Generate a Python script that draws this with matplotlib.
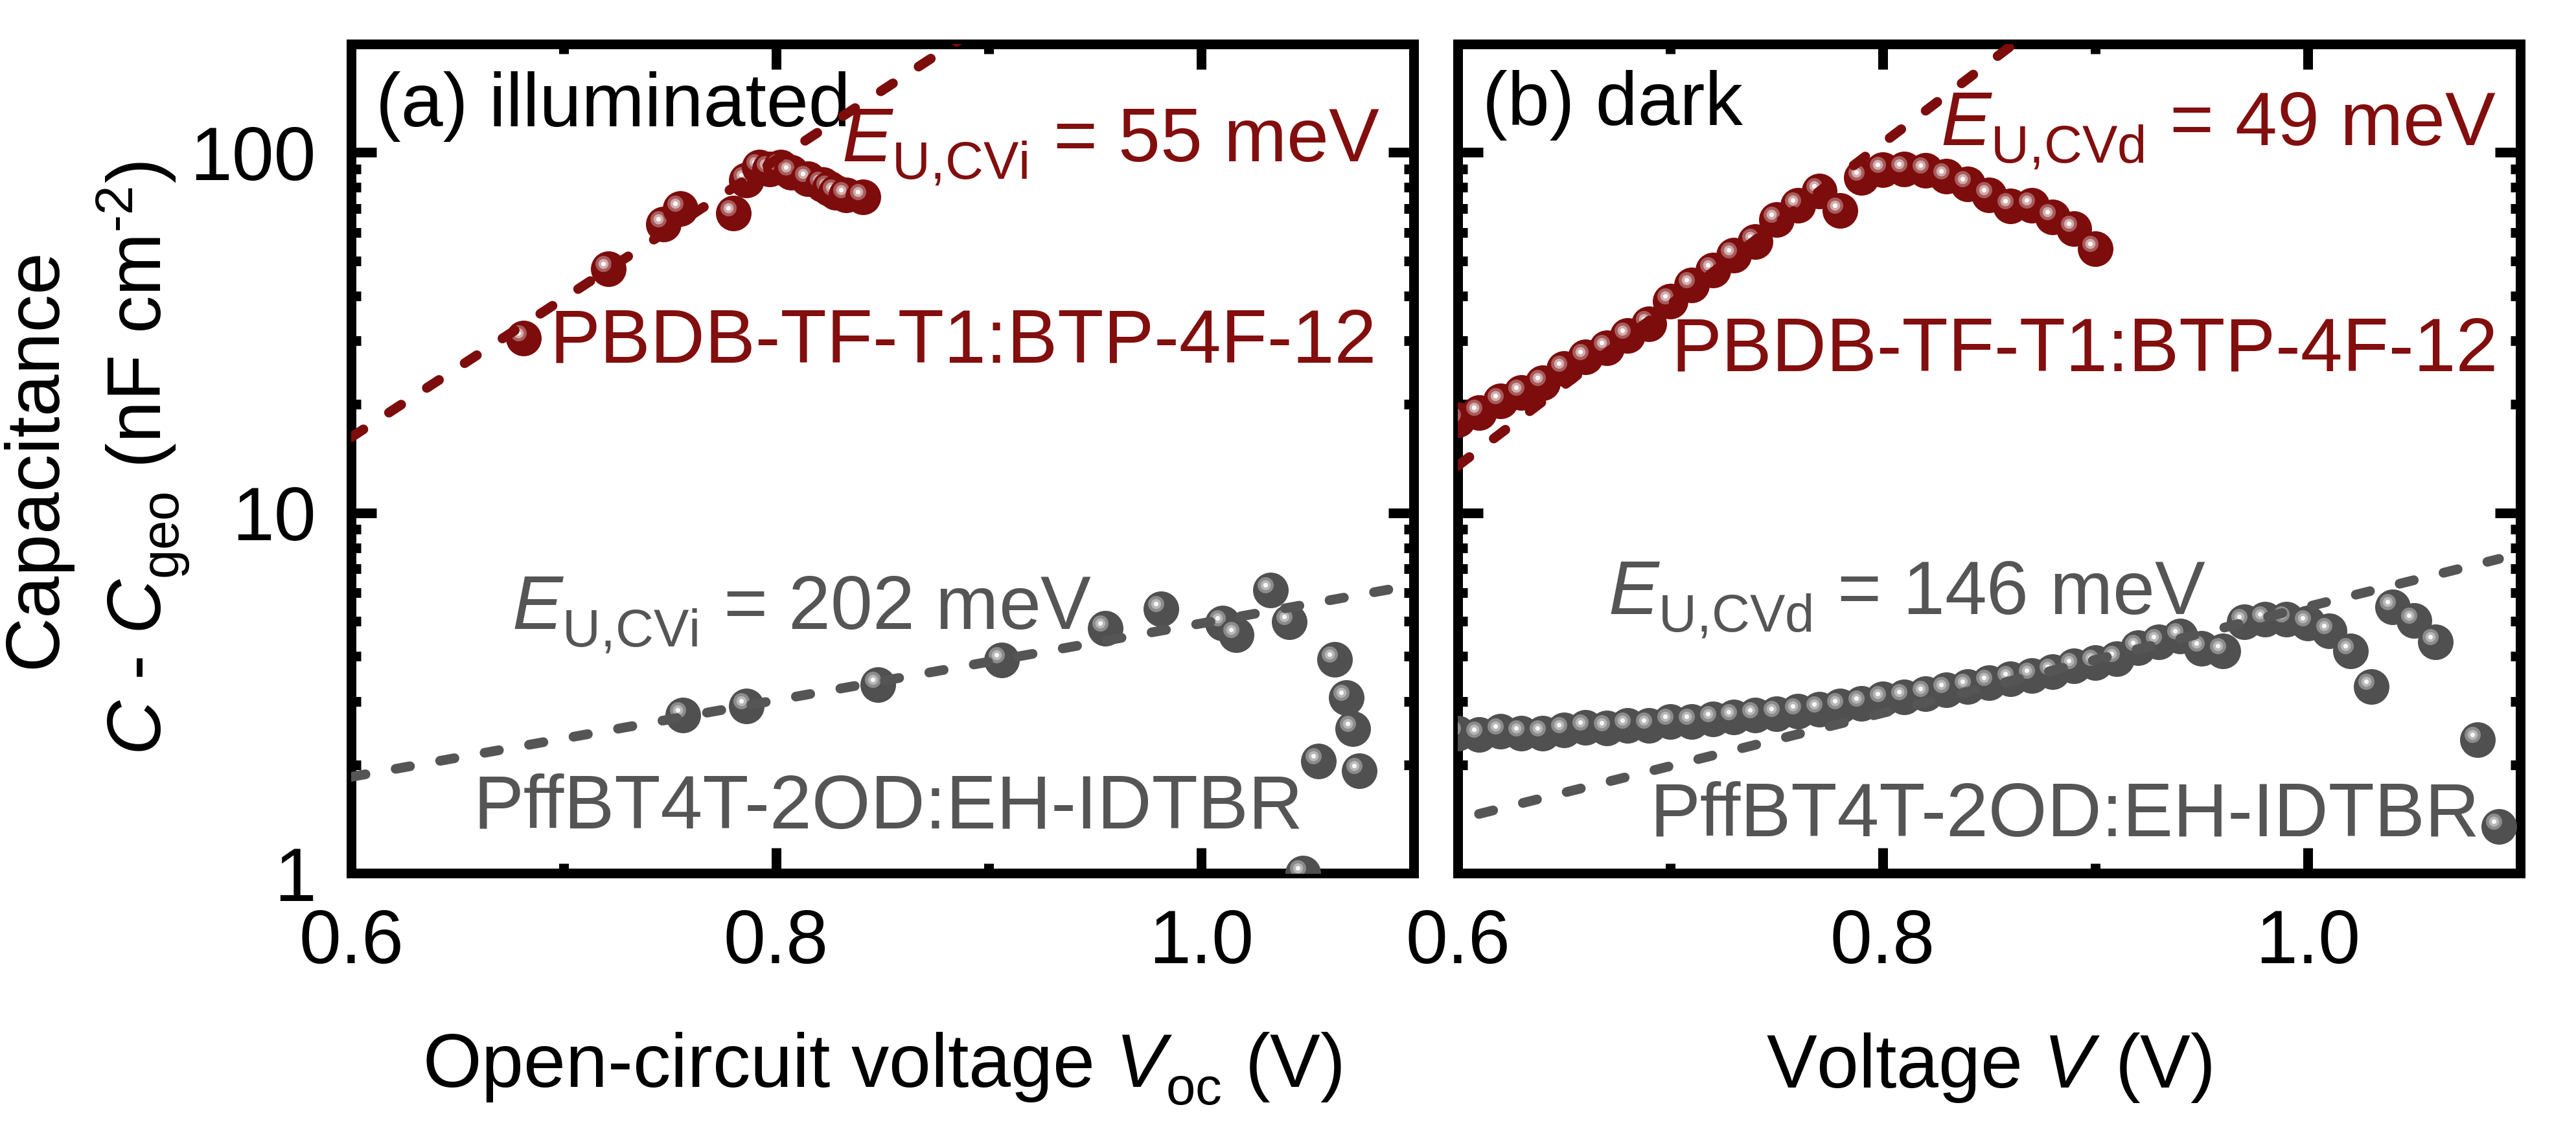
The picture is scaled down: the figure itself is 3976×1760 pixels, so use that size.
import matplotlib
matplotlib.use("Agg")
import matplotlib.pyplot as plt
import matplotlib.transforms as mtransforms
from matplotlib.ticker import LogLocator, NullFormatter, FixedLocator

plt.rcParams['font.family'] = ['Liberation Sans', 'DejaVu Sans']
plt.rcParams['mathtext.fontset'] = 'custom'
plt.rcParams['mathtext.rm'] = 'Liberation Sans'
plt.rcParams['mathtext.it'] = 'Liberation Sans:italic'
plt.rcParams['axes.linewidth'] = 5.4

# subscripts in the original sit a bit lower than mathtext's default
try:
    import matplotlib._mathtext as _mt
    _mt.FontConstantsBase.sub1 = 0.45
except Exception:
    pass

# (a) illuminated, PBDB-TF-T1:BTP-4F-12
illum_pbdb_v = [0.681, 0.721, 0.747, 0.755, 0.780, 0.786, 0.792, 0.797, 0.802,
                0.807, 0.815, 0.822, 0.825, 0.828, 0.833, 0.841]
illum_pbdb_c = [30.6, 47.5, 63.4, 70.0, 67.8, 83.7, 91.0, 89.8, 91.0,
                88.0, 84.7, 81.3, 79.3, 77.6, 76.1, 75.2]

# (a) illuminated, PffBT4T-2OD:EH-IDTBR
illum_pff_v = [0.756, 0.786, 0.848, 0.906, 0.955, 0.981, 1.010, 1.0165, 1.0326,
               1.0415, 1.0628, 1.0683, 1.0713, 1.0552, 1.0744, 1.048]
illum_pff_c = [2.75, 2.91, 3.34, 3.90, 4.78, 5.41, 4.94, 4.58, 6.10,
               4.98, 3.92, 3.07, 2.52, 2.05, 1.92, 1.0]

# (b) dark, PBDB-TF-T1:BTP-4F-12
dark_pbdb_v = [0.600, 0.610, 0.620, 0.630, 0.640, 0.650, 0.660, 0.670, 0.680, 0.690,
               0.700, 0.710, 0.720, 0.730, 0.740, 0.750, 0.760, 0.770, 0.780, 0.790,
               0.800, 0.810, 0.820, 0.830, 0.840, 0.850, 0.860, 0.870, 0.880, 0.890,
               0.900]
dark_pbdb_c = [18.1, 19.0, 20.4, 21.6, 23.0, 25.1, 27.1, 28.7, 31.1, 33.4,
               38.7, 42.8, 47.1, 51.8, 56.5, 65.1, 71.4, 78.3, 69.1, 85.3,
               89.7, 90.1, 89.1, 86.0, 81.7, 76.2, 71.1, 71.4, 66.2, 61.4,
               54.0]

# (b) dark, PffBT4T-2OD:EH-IDTBR
dark_pff_v = [0.600, 0.610, 0.620, 0.630, 0.640, 0.650, 0.660, 0.670, 0.680, 0.690,
              0.700, 0.710, 0.720, 0.730, 0.740, 0.750, 0.760, 0.770, 0.780, 0.790,
              0.800, 0.810, 0.820, 0.830, 0.840, 0.850, 0.860, 0.870, 0.880, 0.890,
              0.900, 0.910, 0.920, 0.930, 0.940, 0.950, 0.960, 0.970, 0.980, 0.990,
              1.000, 1.010, 1.020, 1.030, 1.040, 1.050, 1.060, 1.080, 1.090]
dark_pff_c = [2.45, 2.43, 2.48, 2.45, 2.45, 2.50, 2.54, 2.53, 2.57, 2.57,
              2.63, 2.63, 2.68, 2.71, 2.75, 2.77, 2.81, 2.85, 2.91, 2.96,
              3.04, 3.08, 3.15, 3.22, 3.30, 3.38, 3.46, 3.54, 3.63, 3.76,
              3.84, 3.94, 4.22, 4.39, 4.55, 4.21, 4.14, 4.99, 5.06, 5.07,
              4.95, 4.70, 4.14, 3.30, 5.47, 5.02, 4.38, 2.35, 1.35]

# exponential fits (end points)
fit_illum_pbdb_v = [0.60, 0.90]
fit_illum_pbdb_c = [16.2, 232]
fit_illum_pff_v = [0.60, 1.09]
fit_illum_pff_c = [1.85, 6.15]
fit_dark_pbdb_v = [0.60, 0.88]
fit_dark_pbdb_c = [13.5, 242]
fit_dark_pff_v = [0.61, 1.09]
fit_dark_pff_c = [1.46, 7.45]

RED = '#7d0c0c'
RED_RINGS = ['#a85c5c', '#d4acac', '#ffffff']
GRAY = '#505050'
GRAY_RINGS = ['#8c8c8c', '#b8b8b8', '#f8f8f8']
TXT_RED = '#820e0e'
TXT_GRAY = '#555555'
FS = 42

fig = plt.figure(figsize=(19.88, 8.8), dpi=200)
ax_a = fig.add_axes([0.13632, 0.23409, 0.41247, 0.72727])
ax_b = fig.add_axes([0.56590, 0.23409, 0.41247, 0.72727])


def draw_balls(ax, v, c, base, rings):
    # shaded "sphere" markers: dark disc plus an offset highlight
    tr = mtransforms.offset_copy(ax.transData, fig=fig, x=-8, y=8, units='dots')
    for x, y in zip(v, c):
        ax.plot(x, y, 'o', ms=19.8, mfc=base, mec='none', zorder=3)
        for size, col in zip([9.0, 5.6, 2.6], rings):
            ax.plot(x, y, 'o', ms=size, mfc=col, mec='none', transform=tr, zorder=3)


def fit_line(ax, v, c, color):
    ax.plot(v, c, color=color, lw=5.4, ls=(0, (1.5, 3.15)),
            dash_capstyle='round', zorder=4)


for ax in (ax_a, ax_b):
    ax.set_yscale('log')
    ax.set_xlim(0.6, 1.1)
    ax.set_ylim(1, 200)
    ax.xaxis.set_major_locator(FixedLocator([0.6, 0.8, 1.0]))
    ax.xaxis.set_minor_locator(FixedLocator([0.7, 0.9]))
    ax.set_xticklabels(['0.6', '0.8', '1.0'])
    ax.yaxis.set_major_locator(FixedLocator([1, 10, 100]))
    ax.yaxis.set_minor_locator(LogLocator(base=10, subs=[2, 3, 4, 5, 6, 7, 8, 9]))
    ax.yaxis.set_minor_formatter(NullFormatter())
    ax.set_yticklabels(['1', '10', '100'])
    ax.tick_params(which='major', direction='in', top=True, right=True,
                   length=14, width=5.4, labelsize=FS, pad=19.5)
    ax.tick_params(which='minor', direction='in', top=True, right=True,
                   length=5.4, width=5.4)

ax_b.tick_params(labelleft=False)

# panel (a)
fit_line(ax_a, fit_illum_pbdb_v, fit_illum_pbdb_c, RED)
fit_line(ax_a, fit_illum_pff_v, fit_illum_pff_c, TXT_GRAY)
draw_balls(ax_a, illum_pbdb_v, illum_pbdb_c, RED, RED_RINGS)
draw_balls(ax_a, illum_pff_v, illum_pff_c, GRAY, GRAY_RINGS)

ax_a.text(0.023, 0.901, '(a) illuminated', transform=ax_a.transAxes,
          fontsize=FS, va='baseline', ha='left', color='black')
ax_a.text(0.968, 0.858, r'$E_{\mathrm{U{,}CVi}}$ = 55 meV', transform=ax_a.transAxes,
          fontsize=FS, va='baseline', ha='right', color=TXT_RED)
ax_a.text(0.965, 0.616, 'PBDB-TF-T1:BTP-4F-12', transform=ax_a.transAxes,
          fontsize=FS, va='baseline', ha='right', color=TXT_RED)
ax_a.text(0.151, 0.294, r'$E_{\mathrm{U{,}CVi}}$ = 202 meV', transform=ax_a.transAxes,
          fontsize=FS, va='baseline', ha='left', color=TXT_GRAY)
ax_a.text(0.896, 0.054, 'PffBT4T-2OD:EH-IDTBR', transform=ax_a.transAxes,
          fontsize=FS, va='baseline', ha='right', color=TXT_GRAY)

# panel (b)
fit_line(ax_b, fit_dark_pbdb_v, fit_dark_pbdb_c, RED)
fit_line(ax_b, fit_dark_pff_v, fit_dark_pff_c, TXT_GRAY)
draw_balls(ax_b, dark_pbdb_v, dark_pbdb_c, RED, RED_RINGS)
draw_balls(ax_b, dark_pff_v, dark_pff_c, GRAY, GRAY_RINGS)

ax_b.text(0.023, 0.902, '(b) dark', transform=ax_b.transAxes,
          fontsize=FS, va='baseline', ha='left', color='black')
ax_b.text(0.977, 0.878, r'$E_{\mathrm{U{,}CVd}}$ = 49 meV', transform=ax_b.transAxes,
          fontsize=FS, va='baseline', ha='right', color=TXT_RED)
ax_b.text(0.979, 0.606, 'PBDB-TF-T1:BTP-4F-12', transform=ax_b.transAxes,
          fontsize=FS, va='baseline', ha='right', color=TXT_RED)
ax_b.text(0.1415, 0.312, r'$E_{\mathrm{U{,}CVd}}$ = 146 meV', transform=ax_b.transAxes,
          fontsize=FS, va='baseline', ha='left', color=TXT_GRAY)
ax_b.text(0.962, 0.0445, 'PffBT4T-2OD:EH-IDTBR', transform=ax_b.transAxes,
          fontsize=FS, va='baseline', ha='right', color=TXT_GRAY)

ax_a.set_xlabel(r'Open-circuit voltage $V_{\mathrm{oc}}$ (V)', fontsize=FS, labelpad=29)
ax_b.set_xlabel(r'Voltage $V$ (V)', fontsize=FS, labelpad=29)

fig.text(0.0141, 0.598, 'Capacitance', rotation=90, fontsize=FS,
         ha='center', va='center')
fig.text(0.0556, 0.598, '$C$ - $C_{\\mathrm{geo}}$ (nF cm$^{\u2010 2}$)', rotation=90,
         fontsize=FS, ha='center', va='center')

fig.savefig('out.png', dpi=200)
